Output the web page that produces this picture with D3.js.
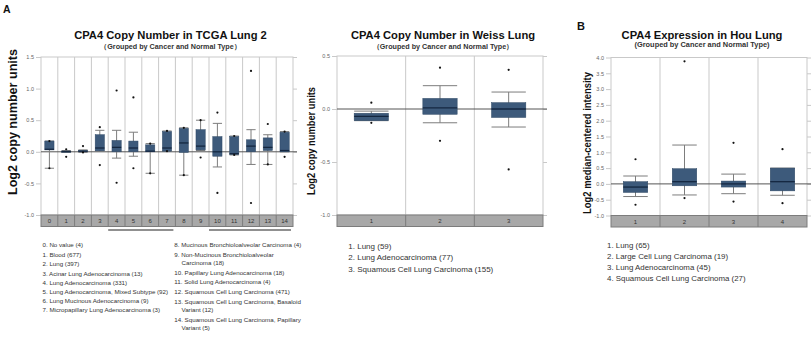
<!DOCTYPE html>
<html>
<head>
<meta charset="utf-8">
<script src="https://cdn.jsdelivr.net/npm/d3@7"></script>
<style>
  body { margin: 0; background: #fff; }
  text { font-family: "Liberation Sans", Arial, sans-serif; }
</style>
</head>
<body>
<svg id="fig" width="812" height="337"></svg>
<script>
// ---- TCGA Lung 2 (copy number) ----
const tcgaCats = ["0", "1", "2", "3", "4", "5", "6", "7", "8", "9", "10", "11", "12", "13", "14"]
const tcgaLow  = [-0.26, -0.01, -0.01, 0.01, -0.10, -0.07, -0.34, 0.01, -0.37, 0.02, -0.24, -0.05, -0.20, -0.20, 0.00]
const tcgaQ1   = [0.03, -0.005, 0.00, 0.015, 0.00, 0.00, 0.00, 0.01, -0.01, 0.03, -0.07, -0.04, 0.00, 0.02, 0.00]
const tcgaMed  = [0.04, 0.005, 0.01, 0.06, 0.07, 0.06, 0.01, 0.06, 0.14, 0.09, 0.00, -0.03, 0.09, 0.07, 0.02]
const tcgaQ3   = [0.17, 0.01, 0.02, 0.27, 0.18, 0.17, 0.11, 0.32, 0.37, 0.35, 0.24, 0.24, 0.19, 0.22, 0.31]
const tcgaHigh = [0.17, 0.02, 0.03, 0.34, 0.34, 0.31, 0.13, 0.33, 0.38, 0.50, 0.45, 0.25, 0.35, 0.27, 0.32]
const tcgaDots = [[0.17, -0.26], [0.04, -0.08], [0.09, -0.01], [0.39, -0.21], [0.97, -0.49], [0.86, -0.26],
  [0.13, -0.34], [0.33, 0.01], [0.38, -0.37], [0.50, -0.09], [0.62, -0.65], [0.25, -0.05],
  [1.28, -0.81], [0.44, -0.20], [0.32, -0.08]]
const tcgaTicks = [-1.0, -0.5, 0.0, 0.5, 1.0, 1.5]
const tcgaBrackets = [["4", "7"], ["10", "14"]]
const tcgaLegendLeft = [
  "0. No value (4)",
  "1. Blood (677)",
  "2. Lung (397)",
  "3. Acinar Lung Adenocarcinoma (13)",
  "4. Lung Adenocarcinoma (331)",
  "5. Lung Adenocarcinoma, Mixed Subtype (92)",
  "6. Lung Mucinous Adenocarcinoma (9)",
  "7. Micropapillary Lung Adenocarcinoma (3)"
]
const tcgaLegendRight = [
  ["8. Mucinous Bronchioloalveolar Carcinoma (4)"],
  ["9. Non-Mucinous Bronchioloalveolar", "Carcinoma (18)"],
  ["10. Papillary Lung Adenocarcinoma (18)"],
  ["11. Solid Lung Adenocarcinoma (4)"],
  ["12. Squamous Cell Lung Carcinoma (471)"],
  ["13. Squamous Cell Lung Carcinoma, Basaloid", "Variant (12)"],
  ["14. Squamous Cell Lung Carcinoma, Papillary", "Variant (5)"]
]

// ---- Weiss Lung (copy number) ----
const weissCats = ["1", "2", "3"]
const weissLow  = [-0.11, -0.13, -0.17]
const weissQ1   = [-0.11, -0.05, -0.08]
const weissMed  = [-0.07, 0.01, 0.00]
const weissQ3   = [-0.04, 0.10, 0.06]
const weissHigh = [-0.02, 0.22, 0.16]
const weissDots = [[0.06, -0.13], [0.39, -0.30], [0.37, -0.57]]
const weissTicks = [-1.0, -0.5, 0.0, 0.5]
const weissLegend = [
  "1. Lung (59)",
  "2. Lung Adenocarcinoma (77)",
  "3. Squamous Cell Lung Carcinoma (155)"
]

// ---- Hou Lung (expression) ----
const houCats = ["1", "2", "3", "4"]
const houLow  = [-0.40, -0.35, -0.31, -0.36]
const houQ1   = [-0.27, -0.06, -0.10, -0.22]
const houMed  = [-0.10, 0.07, 0.00, 0.07]
const houQ3   = [0.07, 0.48, 0.09, 0.50]
const houHigh = [0.25, 1.23, 0.31, 0.50]
const houDots = [[0.78, -0.66], [3.88, -0.45], [1.30, -0.56], [1.10, -0.61]]
const houTicks = [-1.0, -0.5, 0.0, 0.5, 1.0, 1.5, 2.0, 2.5, 3.0, 3.5, 4.0]
const houLegend = [
  "1. Lung (65)",
  "2. Large Cell Lung Carcinoma (19)",
  "3. Lung Adenocarcinoma (45)",
  "4. Squamous Cell Lung Carcinoma (27)"
]

const svg = d3.select("#fig")
svg.append("rect").attr("width", 812).attr("height", 337).attr("fill", "#fff")

const gridColor = "#c9c9c9"
const boxFill = "#3d5a7b"
const medianColor = "#142740"
const whiskerColor = "#7d7d7d"

function drawPanel(p) {
  const x = d3.scaleBand().domain(p.cats).range([p.left, p.right])
  const y = d3.scaleLinear().domain(p.yDomain).range([p.bottom, p.top])
  const g = svg.append("g")

  // plot frame and column separators
  g.append("rect")
    .attr("x", p.left).attr("y", p.top)
    .attr("width", p.right - p.left).attr("height", p.bottom - p.top)
    .attr("fill", "#fff").attr("stroke", gridColor)

  g.selectAll(".sep")
    .data(p.cats.slice(1))
    .join("line")
    .attr("x1", d => x(d)).attr("x2", d => x(d))
    .attr("y1", p.top).attr("y2", p.bottom)
    .attr("stroke", gridColor)

  // left axis with labels, right axis ticks only
  const yAxisGenerator = d3.axisLeft(y).tickValues(p.ticks).tickFormat(d => d.toFixed(1)).tickSize(5).tickPadding(2)
  g.append("g")
    .attr("transform", `translate(${p.left},0)`)
    .call(yAxisGenerator)
    .call(a => {
      a.select(".domain").remove()
      a.selectAll("line").attr("stroke", gridColor)
      a.selectAll("text").attr("fill", "#666").style("font-size", "5.5px").style("font-family", "Liberation Sans, Arial")
    })

  const yRightGenerator = d3.axisRight(y).tickValues(p.ticks).tickFormat("").tickSize(4)
  g.append("g")
    .attr("transform", `translate(${p.right},0)`)
    .call(yRightGenerator)
    .call(a => {
      a.select(".domain").remove()
      a.selectAll("line").attr("stroke", gridColor)
    })

  // zero line
  g.append("line")
    .attr("x1", p.left).attr("x2", p.right + 4)
    .attr("y1", y(0)).attr("y2", y(0))
    .attr("stroke", "#555").attr("stroke-width", 1)

  const rows = p.cats.map((c, i) => ({
    c, low: p.low[i], q1: p.q1[i], med: p.med[i], q3: p.q3[i], high: p.high[i], dots: p.dots[i]
  }))
  const bw = x.bandwidth() * p.boxFrac
  const cx = d => x(d.c) + x.bandwidth() / 2

  const box = g.selectAll(".box").data(rows).join("g")

  box.append("line")
    .attr("x1", cx).attr("x2", cx)
    .attr("y1", d => y(d.low)).attr("y2", d => y(d.high))
    .attr("stroke", whiskerColor)

  box.selectAll(".cap")
    .data(d => [d.low, d.high].map(v => ({ c: d.c, v })))
    .join("line")
    .attr("x1", d => cx(d) - bw / 2).attr("x2", d => cx(d) + bw / 2)
    .attr("y1", d => y(d.v)).attr("y2", d => y(d.v))
    .attr("stroke", whiskerColor)

  box.append("rect")
    .attr("x", d => cx(d) - bw / 2)
    .attr("width", bw)
    .attr("y", d => y(d.q3))
    .attr("height", d => Math.max(1, y(d.q1) - y(d.q3)))
    .attr("fill", boxFill)
    .attr("stroke", "#2f4865").attr("stroke-width", 0.5)

  box.append("line")
    .attr("x1", d => cx(d) - bw / 2).attr("x2", d => cx(d) + bw / 2)
    .attr("y1", d => y(d.med)).attr("y2", d => y(d.med))
    .attr("stroke", medianColor).attr("stroke-width", 1.3)

  box.selectAll(".dot")
    .data(d => d.dots.map(v => ({ c: d.c, v })))
    .join("circle")
    .attr("cx", cx).attr("cy", d => y(d.v))
    .attr("r", 1.1).attr("fill", "#111")

  // category strip
  const stripH = 11.5
  g.append("rect")
    .attr("x", p.left).attr("y", p.bottom)
    .attr("width", p.right - p.left).attr("height", stripH)
    .attr("fill", "#a8a8a8").attr("stroke", "#7c7c7c")
  g.selectAll(".stripSep")
    .data(p.cats.slice(1))
    .join("line")
    .attr("x1", d => x(d)).attr("x2", d => x(d))
    .attr("y1", p.bottom).attr("y2", p.bottom + stripH)
    .attr("stroke", "#7c7c7c")
  g.selectAll(".catLabel")
    .data(p.cats)
    .join("text")
    .attr("x", d => x(d) + x.bandwidth() / 2)
    .attr("y", p.bottom + 8)
    .attr("text-anchor", "middle")
    .attr("fill", "#333")
    .style("font-size", "6px")
    .text(d => d)

  // titles
  g.append("text")
    .attr("x", p.titleX).attr("y", 39)
    .attr("text-anchor", "middle")
    .attr("font-weight", "bold")
    .style("font-size", "11.2px")
    .attr("fill", "#111")
    .text(p.title)
  g.append("text")
    .attr("x", p.titleX).attr("y", p.subY)
    .attr("text-anchor", "middle")
    .attr("font-weight", "bold")
    .style("font-size", p.subSize + "px")
    .attr("fill", "#333")
    .text(p.subtitle)

  // y label
  g.append("text")
    .attr("transform", `translate(${p.yLabelX},${p.yLabelY}) rotate(-90)`)
    .attr("text-anchor", "middle")
    .attr("font-weight", "bold")
    .style("font-size", p.yLabelSize + "px")
    .attr("textLength", p.yLabelLen)
    .attr("lengthAdjust", "spacingAndGlyphs")
    .attr("fill", "#111")
    .text(p.yLabel)

  return x
}

const xTcga = drawPanel({
  cats: tcgaCats, low: tcgaLow, q1: tcgaQ1, med: tcgaMed, q3: tcgaQ3, high: tcgaHigh, dots: tcgaDots,
  left: 41, right: 293, top: 57, bottom: 215, yDomain: [-1, 1.5], ticks: tcgaTicks, boxFrac: 0.55,
  title: "CPA4 Copy Number in TCGA Lung 2", titleX: 170.5,
  subtitle: "（Grouped by Cancer and Normal Type）", subY: 49, subSize: 7.2,
  yLabel: "Log2 copy number units", yLabelX: 17, yLabelY: 122, yLabelSize: 12, yLabelLen: 146
})

drawPanel({
  cats: weissCats, low: weissLow, q1: weissQ1, med: weissMed, q3: weissQ3, high: weissHigh, dots: weissDots,
  left: 337, right: 543, top: 56, bottom: 215, yDomain: [-1, 0.5], ticks: weissTicks, boxFrac: 0.5,
  title: "CPA4 Copy Number in Weiss Lung", titleX: 443,
  subtitle: "（Grouped by Cancer and Normal Type）", subY: 49, subSize: 7.2,
  yLabel: "Log2 copy number units", yLabelX: 315, yLabelY: 141, yLabelSize: 11, yLabelLen: 108
})

drawPanel({
  cats: houCats, low: houLow, q1: houQ1, med: houMed, q3: houQ3, high: houHigh, dots: houDots,
  left: 611, right: 807, top: 57.5, bottom: 215.5, yDomain: [-1, 4], ticks: houTicks, boxFrac: 0.5,
  title: "CPA4 Expression in Hou Lung", titleX: 702,
  subtitle: "(Grouped by Cancer and Normal Type)", subY: 47, subSize: 7.4,
  yLabel: "Log2 median-centered intensity", yLabelX: 590.5, yLabelY: 143, yLabelSize: 10, yLabelLen: 142
})

// brackets under TCGA categories
svg.selectAll(".bracket")
  .data(tcgaBrackets)
  .join("line")
  .attr("x1", d => xTcga(d[0]))
  .attr("x2", d => xTcga(d[1]) + xTcga.bandwidth() - 2)
  .attr("y1", 230).attr("y2", 230)
  .attr("stroke", "#222").attr("stroke-width", 1)

// legends
const legendColor = "#333"
svg.selectAll(".legA")
  .data(tcgaLegendLeft)
  .join("text")
  .attr("x", 42.5)
  .attr("y", (d, i) => 247 + (i === 0 ? 0 : 1 + i * 9.2))
  .attr("fill", legendColor)
  .style("font-size", "6.2px")
  .text(d => d)

let ry = 247
tcgaLegendRight.forEach((lines, i) => {
  if (i > 0) ry += 9.7
  lines.forEach((line, j) => {
    if (j > 0) ry += 8.3
    svg.append("text")
      .attr("x", j === 0 ? 174.3 : 181.5)
      .attr("y", ry)
      .attr("fill", legendColor)
      .style("font-size", "6.2px")
      .text(line)
  })
})

svg.selectAll(".legW")
  .data(weissLegend)
  .join("text")
  .attr("x", 348.3)
  .attr("y", (d, i) => 248.5 + i * 11.8)
  .attr("fill", legendColor)
  .style("font-size", "8px")
  .text(d => d)

svg.selectAll(".legH")
  .data(houLegend)
  .join("text")
  .attr("x", 607)
  .attr("y", (d, i) => 248.3 + i * 11)
  .attr("fill", legendColor)
  .style("font-size", "7.9px")
  .text(d => d)

// panel letters
svg.append("text").attr("x", 3).attr("y", 12.5).attr("font-weight", "bold").style("font-size", "10.5px").attr("fill", "#111").text("A")
svg.append("text").attr("x", 577).attr("y", 29.5).attr("font-weight", "bold").style("font-size", "11px").attr("fill", "#111").text("B")
</script>
</body>
</html>
